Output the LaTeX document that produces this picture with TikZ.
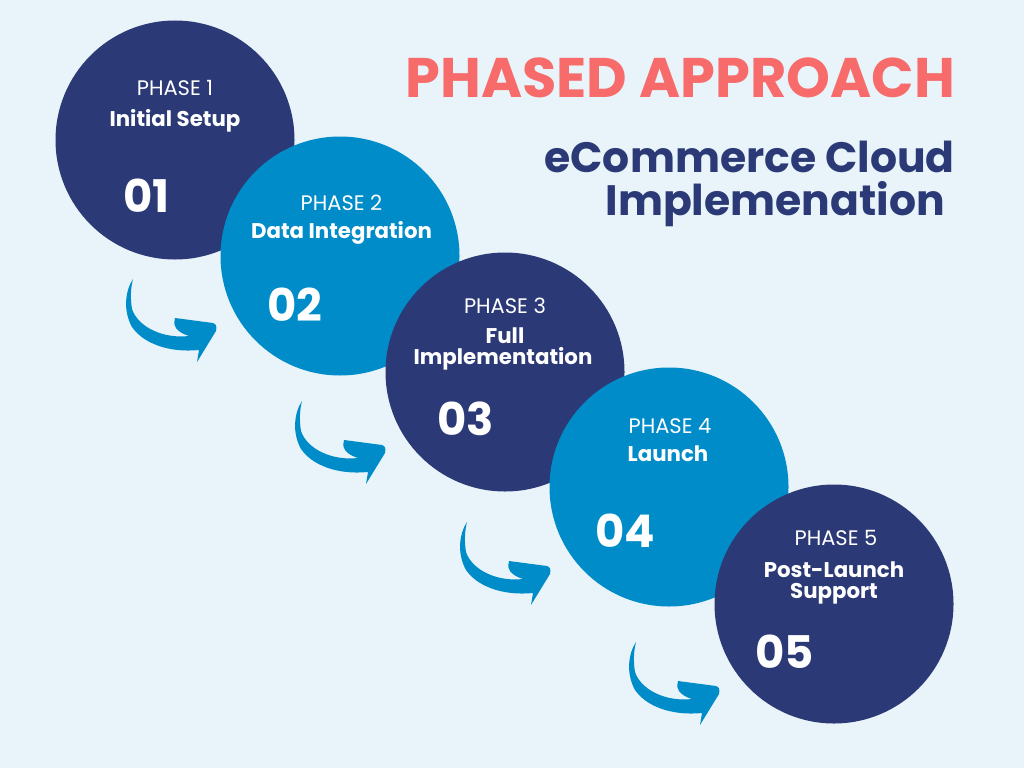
\documentclass[tikz,border=0pt]{standalone}
\usepackage{fontspec}
\setmainfont{Poppins}
\definecolor{bg}{HTML}{E8F4F9}
\definecolor{navy}{HTML}{2B3A76}
\definecolor{sky}{HTML}{008CC9}
\definecolor{coral}{HTML}{F76B6B}
\begin{document}
\begin{tikzpicture}[x=1pt,y=-1pt,
  disc/.style={circle,minimum size=239pt,inner sep=0pt,draw=none},
  phase/.style={anchor=base,inner sep=0pt,text=white,font=\fontsize{21}{24}\selectfont},
  ptitle/.style={anchor=base,inner sep=0pt,text=white,font=\bfseries\fontsize{21.3}{24}\selectfont},
  pnum/.style={anchor=base west,inner sep=0pt,text=white,font=\bfseries\fontsize{45}{48}\selectfont},
  swoosh/.style={fill=sky,draw=none}]
\fill[bg] (0,0) rectangle (1024,768);
\useasboundingbox (0,0) rectangle (1024,768);

% swoosh arrows
\foreach \ax/\ay [count=\k] in {133/279,302/401,467/522,636/642}{
  \fill[swoosh,shift={(\ax,\ay)}] (0,0)
    .. controls (-8,12) and (-10,32) .. (-1,48)
    .. controls (10,64) and (35,74) .. (66,71)
    -- (64,83) -- (83,52)
    .. controls (84,47) and (83,45) .. (80,44)
    -- (42,39)
    .. controls (41,44) and (41,47) .. (43,49)
    .. controls (46,53) and (50,55) .. (56,57)
    .. controls (30,60) and (5,48) .. (-1,30)
    .. controls (-3,18) and (-2,8) .. (0,0) -- cycle;
}

% circles
\node[disc,fill=navy] (c1) at (175,140) {};
\node[disc,fill=sky]  (c2) at (340,256) {};
\node[disc,fill=navy] (c3) at (505,372) {};
\node[disc,fill=sky]  (c4) at (669,487) {};
\node[disc,fill=navy] (c5) at (834,604) {};

% circle texts
\node[phase]  (p1) at (175,95) {PHASE 1};
\node[ptitle] (t1) at (175,126) {Initial Setup};
\node[pnum]   (n1) at (123,212) {01};

\node[phase]  (p2) at (341.5,210) {PHASE 2};
\node[ptitle] (t2) at (341.5,238) {Data Integration};
\node[pnum]   (n2) at (267,321) {02};

\node[phase]  (p3) at (505,313) {PHASE 3};
\node[ptitle] (t3a) at (505,343) {Full};
\node[ptitle] (t3b) at (503,364) {Implementation};
\node[pnum]   (n3) at (437,435) {03};

\node[phase]  (p4) at (670,433) {PHASE 4};
\node[ptitle] (t4) at (668,461) {Launch};
\node[pnum]   (n4) at (595,547) {04};

\node[phase]  (p5) at (836,545) {PHASE 5};
\node[ptitle] (t5a) at (834,577) {Post-Launch};
\node[ptitle] (t5b) at (834,598) {Support};
\node[pnum]   (n5) at (755,668) {05};

% headings
\node[anchor=base east,inner sep=0pt,text=coral,font=\bfseries\fontsize{55.8}{60}\selectfont] (title) at (955,97) {PHASED APPROACH};
\node[anchor=base east,inner sep=0pt,text=navy,font=\bfseries\fontsize{42.5}{48}\selectfont] (sub1) at (955,172) {eCommerce Cloud};
\node[anchor=base east,inner sep=0pt,text=navy,font=\bfseries\fontsize{42.5}{48}\selectfont] (sub2) at (945,215) {Implemenation};
\end{tikzpicture}
\end{document}
